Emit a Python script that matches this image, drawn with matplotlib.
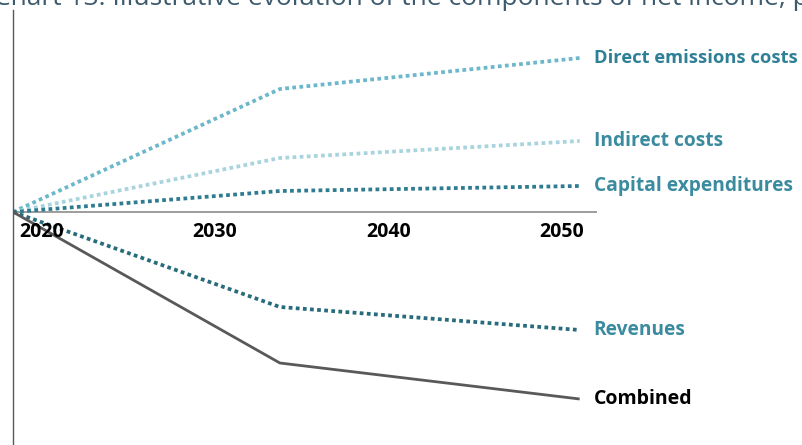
import matplotlib
matplotlib.use("Agg")
import matplotlib.pyplot as plt

# illustrative net income components, arbitrary units, zero = today
years = [2018, 2033.4, 2050.7]
direct_emissions = [0, 12.3, 15.4]
indirect_costs = [0, 5.4, 7.1]
capex = [0, 2.1, 2.6]
revenues = [0, -9.5, -11.8]
combined = [0, -15.1, -18.7]

series_names = ["Direct emissions costs", "Indirect costs", "Capital expenditures", "Revenues"]
series_values = [direct_emissions, indirect_costs, capex, revenues]
series_colors = ["#6cb7ca", "#a9d4df", "#2e7c8e", "#286c7c"]
label_colors = ["#2f8096", "#3b8ba0", "#3b8ba0", "#3b8ba0"]
label_sizes = [13.2, 13.8, 13.8, 13.8]

tick_years = [2020, 2030, 2040, 2050]

plt.rcParams["font.family"] = ["Open Sans", "DejaVu Sans"]

fig = plt.figure(figsize=(8.03, 4.45), dpi=100)
W, H = 803, 445
ax = fig.add_axes([13 / W, 0, 584 / W, 435 / H])

for name, vals, col, tcol, fs in zip(series_names, series_values, series_colors, label_colors, label_sizes):
    ax.plot(years, vals, color=col, linewidth=2.7, linestyle=(0, (1.0, 0.9)))
    ax.annotate(name, xy=(years[-1], vals[-1]), xytext=(10, 0), textcoords="offset points",
                ha="left", va="center", color=tcol, fontsize=fs, fontweight="bold",
                annotation_clip=False)

ax.plot(years, combined, color="#595959", linewidth=2.0, solid_capstyle="butt")
ax.annotate("Combined", xy=(years[-1], combined[-1]), xytext=(10, 0), textcoords="offset points",
            ha="left", va="center", color="black", fontsize=14, fontweight="bold",
            annotation_clip=False)

ax.set_xlim(2018, 2051.7)
ax.set_ylim(-23.3, 20.2)

for s in ["top", "right", "bottom"]:
    ax.spines[s].set_visible(False)
ax.spines["left"].set_color("#595959")
ax.spines["left"].set_linewidth(1.0)
ax.axhline(0, color="#8c8c8c", linewidth=1.2, zorder=0)

ax.set_yticks([])
ax.set_xticks([])
for yr in tick_years:
    ax.text(yr - 0.35, -1.0, str(yr), ha="center", va="top", fontsize=14, fontweight="bold",
            color="black")

# title sits mostly above the canvas, as in the cropped original
fig.text(-0.008, 1 - 5 / H, "Chart 13: Illustrative evolution of the components of net income, per scenario",
         ha="left", va="baseline", fontsize=19, color="#3d5b6e")

fig.savefig("out.png", dpi=100)
